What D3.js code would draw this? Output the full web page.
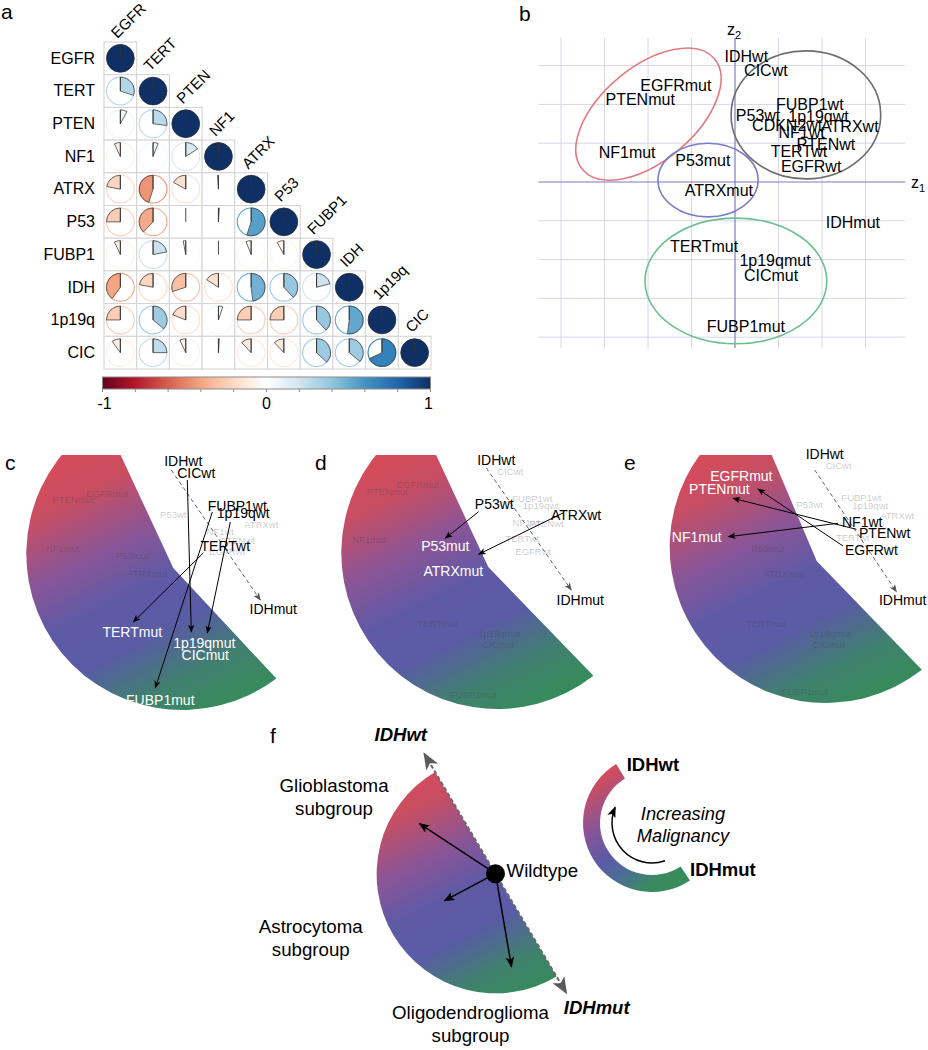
<!DOCTYPE html>
<html>
<head>
<meta charset="utf-8">
<script src="https://cdn.jsdelivr.net/npm/d3@7/dist/d3.min.js"></script>
<style>
html,body{margin:0;padding:0;background:#fff;}
svg{display:block;}
text{font-family:"Liberation Sans",Arial,Helvetica,sans-serif;}
</style>
</head>
<body>
<svg id="fig" width="928" height="1050" xmlns="http://www.w3.org/2000/svg"></svg>
<script>
// ======================= DATA =======================
// Panel a : pairwise correlations (lower triangle, row by row)
const genes = ["EGFR","TERT","PTEN","NF1","ATRX","P53","FUBP1","IDH","1p19q","CIC"];
const corrLower = [
  [1],
  [0.30, 1],
  [0.08, 0.27, 1],
  [-0.07, 0.06, 0.16, 1],
  [-0.22, -0.45, -0.17, -0.01, 1],
  [-0.25, -0.38, 0.00, 0.01, 0.55, 1],
  [-0.07, 0.22, -0.03, 0.00, -0.06, -0.08, 1],
  [-0.40, -0.22, -0.30, -0.16, 0.48, 0.38, 0.21, 1],
  [-0.25, 0.36, -0.19, 0.05, -0.25, -0.25, 0.38, 0.52, 1],
  [-0.10, 0.25, -0.07, 0.01, -0.12, -0.12, 0.37, 0.36, 0.68, 1]
];
const colorbarLabels = [-1, 0, 1];
const colorbarTicks = [-1, -0.8, -0.6, -0.4, -0.2, 0, 0.2, 0.4, 0.6, 0.8, 1];

// Panel b : category coordinates on the first two dimensions
const mcaLabels = ["IDHwt","CICwt","EGFRmut","PTENmut","FUBP1wt","P53wt","1p19qwt","CDKN2wt","ATRXwt","NF1wt","PTENwt","TERTwt","EGFRwt","NF1mut","P53mut","ATRXmut","IDHmut","TERTmut","1p19qmut","CICmut","FUBP1mut"];
const mcaZ1 = [0.26, 0.71, -1.36, -2.18, 1.72, 0.53, 1.92, 1.20, 2.64, 1.53, 2.09, 1.47, 1.75, -2.48, -0.74, -0.37, 2.71, -0.71, 0.92, 0.83, 0.25];
const mcaZ2 = [3.24, 2.88, 2.48, 2.14, 2.00, 1.72, 1.70, 1.47, 1.43, 1.27, 0.97, 0.80, 0.41, 0.76, 0.56, -0.22, -1.04, -1.66, -2.03, -2.41, -3.72];
const gridZ1 = [-4, -3, -2, -1, 0, 1, 2, 3];
const gridZ2 = [-4, -3, -2, -1, 0, 1, 2, 3];
const clusterZ1 = [-1.99, 1.63, -0.62, 0.02];
const clusterZ2 = [1.75, 1.73, 0.05, -2.55];
const clusterSpreadZ1 = [1.98, 1.72, 1.15, 2.09];
const clusterSpreadZ2 = [1.21, 1.65, 0.95, 1.62];
const clusterTilt = [-40, 0, 0, 0];

// Panels c-e : label positions in local units (origin = notch of each fan, v upwards)
// kind: 0 = faded, 1 = highlighted on white, 2 = highlighted on fan
const fanCLabels = [
  ["PTENmut",-100,65,0],["EGFRmut",-66,71,0],["P53wt",0,50,0],["ATRXwt",88,40,0],["NF1wt",47,33,0],
  ["PTENwt",64,24,0],["EGFRwt",54,13,0],["NF1mut",-110.5,16.3,0],["P53mut",-41,8.7,0],["ATRXmut",-26,-9.3,0],
  ["IDHwt",10,102,1],["CICwt",23,90,1],["FUBP1wt",64,57.3,1],["1p19qwt",70,49.7,1],["TERTwt",52,17.3,1],["IDHmut",100,-46,1],
  ["TERTmut",-41,-68.7,2],["1p19qmut",31,-80.3,2],["CICmut",32,-92,2],["FUBP1mut",-13,-137,2]
];
const fanCArrows = [[14,88,18,-64],[57,46,34,-65],[39,56,-18,-120],[30,15,-40,-54]];
const fanCDashed = [-2,98,87,-32];

const fanDLabels = [
  ["EGFRmut",-70.5,78.7,0],["PTENmut",-101,72,0],["FUBP1wt",44,65.3,0],["1p19qwt",52.5,58,0],["NF1wt",38,41,0],
  ["PTENwt",58,39.7,0],["TERTwt",34,25.3,0],["EGFRwt",45,12,0],["NF1mut",-119,23.7,0],["TERTmut",-51,-59.7,0],
  ["1p19qmut",11,-70,0],["CICmut",10,-81.3,0],["FUBP1mut",-15,-131.3,0],["CICwt",22,92,0],
  ["IDHwt",8,102,1],["P53wt",6,57.7,1],["ATRXwt",87.8,47,1],["IDHmut",92,-38.3,1],
  ["P53mut",-43,16,2],["ATRXmut",-35,-9,2]
];
const fanDArrows = [[-9.7,55.3,-43,28.7],[75.3,54.3,-9.7,12.7]];
const fanDDashed = [-2,99,83,-23];

const fanELabels = [
  ["P53wt",-7,53,0],["FUBP1wt",44.7,60.3,0],["1p19qwt",53.5,52,0],["ATRXwt",80.5,42,0],["TERTwt",36,20,0],
  ["P53mut",-49,9.3,0],["ATRXmut",-33,-15.7,0],["TERTmut",-50.3,-65.7,0],["1p19qmut",13,-76,0],["CICmut",12,-87.3,0],
  ["FUBP1mut",-12,-134,0],["CICwt",22,92,0],
  ["IDHwt",8,102,1],["NF1wt",45.5,34.3,1],["PTENwt",68,23,1],["EGFRwt",54.7,6,1],["IDHmut",86,-44,1],
  ["EGFRmut",-75.3,80,2],["PTENmut",-97.3,67,2],["NF1mut",-120,19.3,2]
];
const fanEArrows = [[21.3,37.7,-88.4,24.3],[39.7,31.7,-83.7,62.7],[26.3,15,-58.7,72]];
const fanEDashed = [-2,91,79.7,-30.7];

// Panel f : schematic
const fSubgroups = [["Glioblastoma","subgroup"],["Astrocytoma","subgroup"],["Oligodendroglioma","subgroup"]];
const fArrowTips = [[-76,50],[-51,-27],[16,-93]];   // relative to the wild-type dot, v upwards
const fAxisEnds = ["IDHwt","IDHmut"];
const fRingWords = ["Increasing","Malignancy"];

// ======================= DRAWING =======================
const svg = d3.select("#fig");
const defs = svg.append("defs");

const corrPalette = ["#67001F","#B2182B","#D6604D","#F4A582","#FDDBC7","#FFFFFF","#D1E5F0","#92C5DE","#4393C3","#2166AC","#0e3064"];
const corrColor = d3.scaleLinear().domain(d3.range(11).map(i => -1 + i * 0.2)).range(corrPalette);

function addMarker(id, color, w, h, reverse) {
  const m = defs.append("marker").attr("id", id)
    .attr("viewBox", "0 0 10 8").attr("refX", 9).attr("refY", 4)
    .attr("markerWidth", w).attr("markerHeight", h)
    .attr("markerUnits", "userSpaceOnUse")
    .attr("orient", reverse ? "auto-start-reverse" : "auto");
  m.append("path").attr("d", "M0,0 L10,4 L0,8 L2.5,4 Z").attr("fill", color);
}
addMarker("arrBlack", "#000", 8, 6.4);
addMarker("arrGray", "#555", 8, 6.4);
addMarker("arrF", "#000", 11, 8.8);
addMarker("arrBig", "#5a5a5a", 17, 13.6, true);

const fanStops = [[0,"#d44c5a"],[0.12,"#c74e63"],[0.32,"#8a5597"],[0.5,"#5f5aa6"],[0.66,"#5a5ba6"],[0.84,"#40806f"],[1,"#378c5a"]];
function addGrad(id, x1, y1, x2, y2, stops) {
  const g = defs.append("linearGradient").attr("id", id).attr("gradientUnits", "userSpaceOnUse")
    .attr("x1", x1).attr("y1", y1).attr("x2", x2).attr("y2", y2);
  (stops || fanStops).forEach(s => g.append("stop").attr("offset", s[0]).attr("stop-color", s[1]));
}

function panelLetter(t, x, y) {
  svg.append("text").attr("x", x).attr("y", y).attr("font-size", 21).attr("fill", "#000").text(t);
}

// ---------- Panel a ----------
panelLetter("a", 1, 19);
const xa = d3.scaleBand().domain(genes).range([104, 431]);
const ya = d3.scaleBand().domain(genes).range([42, 369]);
const cs = xa.bandwidth();
const cells = [];
corrLower.forEach((row, i) => row.forEach((r, j) => cells.push({i, j, r})));
const gA = svg.append("g");
gA.selectAll("rect").data(cells).join("rect")
  .attr("x", d => xa(genes[d.j])).attr("y", d => ya(genes[d.i]))
  .attr("width", cs).attr("height", cs)
  .attr("fill", "#fff").attr("stroke", "#d2d2d2").attr("stroke-width", 1);
const pieR = cs * 0.425;
const arcA = d3.arc().innerRadius(0).outerRadius(pieR);
cells.forEach(d => {
  const cx = xa(genes[d.j]) + cs / 2, cy = ya(genes[d.i]) + cs / 2;
  const g = gA.append("g").attr("transform", `translate(${cx},${cy})`);
  if (d.i !== d.j) {
    g.append("circle").attr("r", pieR).attr("fill", "none").attr("stroke", corrColor(d.r)).attr("stroke-width", 1.1);
    if (Math.abs(d.r) > 0.001)
      g.append("path").attr("d", arcA({startAngle: 0, endAngle: d.r * 2 * Math.PI}))
        .attr("fill", corrColor(d.r)).attr("stroke", "#444").attr("stroke-width", 0.8).attr("stroke-linejoin", "round");
  } else {
    g.append("circle").attr("r", pieR).attr("fill", corrColor(d.r)).attr("stroke", "#2a2a3a").attr("stroke-width", 0.8);
  }
  g.append("line").attr("x1", 0).attr("y1", 0).attr("x2", 0).attr("y2", -pieR).attr("stroke", "#333").attr("stroke-width", 0.9);
});
gA.selectAll("text.row").data(genes).join("text")
  .attr("x", 95).attr("y", d => ya(d) + cs / 2).attr("dy", "0.33em")
  .attr("text-anchor", "end").attr("font-size", 16).text(d => d);
gA.selectAll("text.col").data(genes).join("text")
  .attr("transform", d => `translate(${xa(d) + cs / 2 - 3},${ya(d) - 3}) rotate(-45)`)
  .attr("font-size", 15).text(d => d);

// colorbar
const cbx = d3.scaleLinear().domain([-1, 1]).range([102.5, 430.5]);
const cbGrad = defs.append("linearGradient").attr("id", "cbGrad");
d3.range(0, 1.0001, 0.02).forEach(t => cbGrad.append("stop").attr("offset", t).attr("stop-color", corrColor(-1 + 2 * t)));
gA.append("rect").attr("x", cbx(-1)).attr("y", 377).attr("width", cbx(1) - cbx(-1)).attr("height", 12)
  .attr("fill", "url(#cbGrad)").attr("stroke", "#8a8a8a").attr("stroke-width", 1);
gA.selectAll("line.tick").data(colorbarTicks).join("line")
  .attr("x1", d => cbx(d)).attr("x2", d => cbx(d)).attr("y1", 389).attr("y2", 392)
  .attr("stroke", "#8a8a8a").attr("stroke-width", 1);
gA.selectAll("text.cbl").data(colorbarLabels).join("text")
  .attr("x", d => cbx(d) + (d === -1 ? 2 : d === 1 ? -2 : 0)).attr("y", 409).attr("text-anchor", "middle")
  .attr("font-size", 16).text(d => d === -1 ? "-1" : d);

// ---------- Panel b ----------
panelLetter("b", 519, 21);
const bx = d3.scaleLinear().domain([0, 1]).range([735, 778.5]);
const by = d3.scaleLinear().domain([0, 1]).range([182, 143.2]);
const gB = svg.append("g");
const bxMin = bx(-4.52), bxMax = bx(3.91), byTop = by(3.71), byBot = by(-4.28);
gB.selectAll("line.gv").data(gridZ1.filter(v => v !== 0)).join("line")
  .attr("x1", d => bx(d)).attr("x2", d => bx(d)).attr("y1", byTop).attr("y2", byBot)
  .attr("stroke", "#d6d6ea").attr("stroke-width", 1);
gB.selectAll("line.gh").data(gridZ2.filter(v => v !== 0)).join("line")
  .attr("y1", d => by(d)).attr("y2", d => by(d)).attr("x1", bxMin).attr("x2", bxMax)
  .attr("stroke", "#d6d6ea").attr("stroke-width", 1);
gB.append("line").attr("x1", bx(0)).attr("x2", bx(0)).attr("y1", byTop).attr("y2", byBot).attr("stroke", "#7d7db8").attr("stroke-width", 1.2);
gB.append("line").attr("x1", bxMin).attr("x2", bxMax).attr("y1", by(0)).attr("y2", by(0)).attr("stroke", "#7d7db8").attr("stroke-width", 1.2);
const z2 = gB.append("text").attr("x", 727).attr("y", 35).attr("font-size", 16).text("z");
z2.append("tspan").attr("font-size", 11).attr("dy", 4).text("2");
const z1 = gB.append("text").attr("x", 911).attr("y", 188).attr("font-size", 16).text("z");
z1.append("tspan").attr("font-size", 11).attr("dy", 4).text("1");
const clusterColors = ["#e27b80", "#6e6e6e", "#7d7dc6", "#6dc08e"];
clusterZ1.forEach((c, i) => {
  gB.append("ellipse")
    .attr("transform", `translate(${bx(c)},${by(clusterZ2[i])}) rotate(${clusterTilt[i]})`)
    .attr("rx", bx(clusterSpreadZ1[i]) - bx(0)).attr("ry", by(0) - by(clusterSpreadZ2[i]))
    .attr("fill", "none").attr("stroke", clusterColors[i]).attr("stroke-width", 1.6);
});
gB.selectAll("text.lab").data(mcaLabels).join("text")
  .attr("x", (d, i) => bx(mcaZ1[i])).attr("y", (d, i) => by(mcaZ2[i])).attr("dy", "0.35em")
  .attr("text-anchor", "middle").attr("font-size", 16).attr("fill", "#000").text(d => d);

// ---------- Panels c, d, e ----------
function fanPath(N, O, r, aUp, aLow) {
  function hit(a) {
    const dx = Math.cos(a * Math.PI / 180), dy = Math.sin(a * Math.PI / 180);
    const fx = N[0] - O[0], fy = N[1] - O[1];
    const b = fx * dx + fy * dy, c = fx * fx + fy * fy - r * r;
    const t = -b + Math.sqrt(b * b - c);
    return [N[0] + t * dx, N[1] + t * dy];
  }
  const P1 = hit(aLow), P2 = hit(aUp);
  return `M${N[0]},${N[1]}L${P1[0]},${P1[1]}A${r},${r} 0 1 1 ${P2[0]},${P2[1]}Z`;
}
const clipTop = 455;
function drawFan(id, letter, lx, nx, ny, aUp, aLow, labels, arrows, dashed) {
  panelLetter(letter, lx, 470);
  const px = d3.scaleLinear().domain([0, 1]).range([nx, nx + 1]);
  const py = d3.scaleLinear().domain([0, 1]).range([ny, ny - 1]);
  const g = svg.append("g");
  defs.append("clipPath").attr("id", "clip" + id).append("rect")
    .attr("x", nx - 250).attr("y", clipTop).attr("width", 500).attr("height", 400);
  addGrad("grad" + id, px(-63), py(125), px(67), py(-133));
  g.append("path")
    .attr("d", fanPath([px(0), py(0)], [px(9), py(14)], 156, aUp, aLow))
    .attr("fill", `url(#grad${id})`).attr("clip-path", `url(#clip${id})`);
  const faded = labels.filter(d => d[3] === 0), hl = labels.filter(d => d[3] > 0);
  g.selectAll("text.f").data(faded).join("text")
    .attr("x", d => px(d[1])).attr("y", d => py(d[2])).attr("text-anchor", "middle")
    .attr("font-size", 9.5).attr("fill", "#3a3a3a").attr("fill-opacity", 0.28).text(d => d[0]);
  g.append("line").attr("x1", px(dashed[0])).attr("y1", py(dashed[1])).attr("x2", px(dashed[2])).attr("y2", py(dashed[3]))
    .attr("stroke", "#666").attr("stroke-width", 1).attr("stroke-dasharray", "4,3").attr("marker-end", "url(#arrGray)");
  g.selectAll("line.a").data(arrows).join("line")
    .attr("x1", d => px(d[0])).attr("y1", d => py(d[1])).attr("x2", d => px(d[2])).attr("y2", d => py(d[3]))
    .attr("stroke", "#000").attr("stroke-width", 1).attr("marker-end", "url(#arrBlack)");
  g.selectAll("text.h").data(hl).join("text")
    .attr("x", d => px(d[1])).attr("y", d => py(d[2])).attr("text-anchor", "middle")
    .attr("font-size", 14).attr("fill", d => d[3] === 2 ? "#fff" : "#000").text(d => d[0]);
}
drawFan("C", "c", 5, 173.3, 568, -115, 47, fanCLabels, fanCArrows, fanCDashed);
drawFan("D", "d", 315, 488.3, 567, -115, 46, fanDLabels, fanDArrows, fanDDashed);
drawFan("E", "e", 624, 816.7, 561, -113, 46, fanELabels, fanEArrows, fanEDashed);

// ---------- Panel f ----------
panelLetter("f", 270, 743);
const gF = svg.append("g");
const fC = [495.8, 874.2], fR = 119;
const deg = Math.PI / 180;
addGrad("gradF", -56, -111, 56, 111);
gF.append("path").attr("transform", `translate(${fC[0]},${fC[1]})`)
  .attr("d", d3.arc().innerRadius(0).outerRadius(fR).startAngle(149.3 * deg).endAngle(329.3 * deg)())
  .attr("fill", "url(#gradF)");
const ax = Math.sin(149.3 * deg), ay = -Math.cos(149.3 * deg);
gF.append("line")
  .attr("x1", fC[0] - ax * (fR + 21)).attr("y1", fC[1] - ay * (fR + 21))
  .attr("x2", fC[0] + ax * (fR + 19)).attr("y2", fC[1] + ay * (fR + 19))
  .attr("stroke", "#6a6a6a").attr("stroke-width", 2).attr("stroke-dasharray", "4,2.5")
  .attr("marker-start", "url(#arrBig)").attr("marker-end", "url(#arrBig)");
const dot = [495.5, 873.7];
gF.selectAll("line.fa").data(fArrowTips).join("line")
  .attr("x1", dot[0]).attr("y1", dot[1])
  .attr("x2", d => dot[0] + d[0]).attr("y2", d => dot[1] - d[1])
  .attr("stroke", "#000").attr("stroke-width", 1.5).attr("marker-end", "url(#arrF)");
gF.append("circle").attr("cx", dot[0]).attr("cy", dot[1]).attr("r", 9.5).attr("fill", "#000");
gF.append("text").attr("x", 506.5).attr("y", 876.5).attr("font-size", 18.7).text("Wildtype");
gF.append("text").attr("x", 400.8).attr("y", 741).attr("text-anchor", "middle").attr("font-size", 18.5)
  .attr("font-weight", "bold").attr("font-style", "italic").text(fAxisEnds[0]);
gF.append("text").attr("x", 596.7).attr("y", 1014).attr("text-anchor", "middle").attr("font-size", 18.5)
  .attr("font-weight", "bold").attr("font-style", "italic").text(fAxisEnds[1]);
const subPos = [[334, 792.3], [310.8, 933.3], [470.5, 1019]];
fSubgroups.forEach((s, i) => {
  gF.append("text").attr("x", subPos[i][0]).attr("y", subPos[i][1]).attr("text-anchor", "middle").attr("font-size", 18.7).text(s[0]);
  gF.append("text").attr("x", subPos[i][0]).attr("y", subPos[i][1] + 23).attr("text-anchor", "middle").attr("font-size", 18.7).text(s[1]);
});
const rC = [652, 823];
addGrad("gradRing", -40, -55, 35, 50,
  [[0,"#d44c5a"],[0.3,"#8a5597"],[0.55,"#5c5aa6"],[0.72,"#4c6d98"],[0.9,"#3b8a60"],[1,"#378c5a"]]);
gF.append("path").attr("transform", `translate(${rC[0]},${rC[1]})`)
  .attr("d", d3.arc().innerRadius(52).outerRadius(69).startAngle(146.6 * deg).endAngle(328.7 * deg)())
  .attr("fill", "url(#gradRing)");
const curve = d3.path();
curve.arc(0, 0, 40, (161 - 90) * deg, (293 - 90) * deg, false);
gF.append("path").attr("transform", `translate(${rC[0]},${rC[1]})`)
  .attr("d", curve.toString())
  .attr("fill", "none").attr("stroke", "#000").attr("stroke-width", 1.5).attr("marker-end", "url(#arrF)");
gF.append("text").attr("x", 626.7).attr("y", 771).attr("font-size", 18.5).attr("font-weight", "bold").text(fAxisEnds[0]);
gF.append("text").attr("x", 690).attr("y", 876).attr("font-size", 18.5).attr("font-weight", "bold").text(fAxisEnds[1]);
gF.append("text").attr("x", 683).attr("y", 819.5).attr("text-anchor", "middle").attr("font-size", 18.3).attr("font-style", "italic").text(fRingWords[0]);
gF.append("text").attr("x", 683).attr("y", 841.7).attr("text-anchor", "middle").attr("font-size", 18.3).attr("font-style", "italic").text(fRingWords[1]);
</script>
</body>
</html>
